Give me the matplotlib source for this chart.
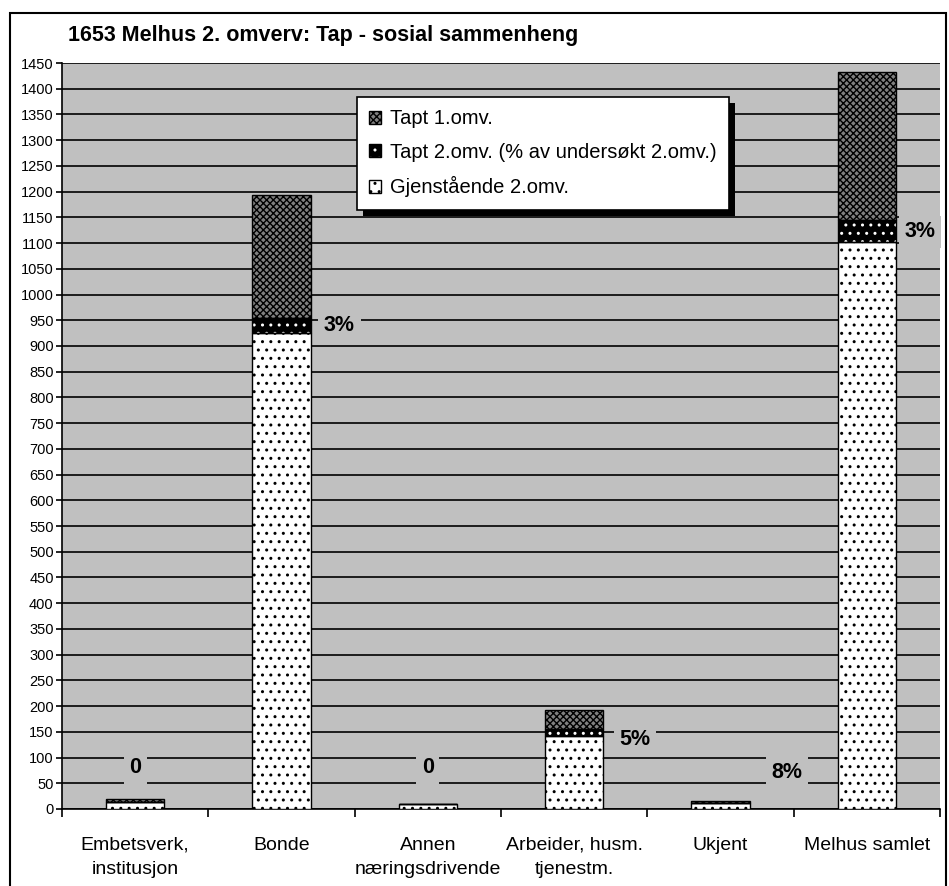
import numpy as np
import matplotlib
matplotlib.use("Agg")
import matplotlib.pyplot as plt
from matplotlib.patches import Patch, Rectangle

plt.rcParams.update({
    "font.family": ["Liberation Sans", "DejaVu Sans"],
    "hatch.linewidth": 1.0,
})

TITLE = "1653 Melhus 2. omverv: Tap - sosial sammenheng"
categories = ["Embetsverk,\ninstitusjon", "Bonde", "Annen\nnæringsdrivende",
              "Arbeider, husm.\ntjenestm.", "Ukjent", "Melhus samlet"]
gjenstaende = [14, 925, 9, 142, 11, 1102]
tapt2 = [0, 29, 0, 13, 1, 42]
tapt1 = [6, 239, 0, 37, 4, 288]
pct_labels = ["0", "3%", "0", "5%", "8%", "3%"]
legend_labels = ["Tapt 1.omv.", "Tapt 2.omv. (% av undersøkt 2.omv.)",
                 "Gjenstående 2.omv."]
# annotation placement (Excel put the labels here)
label_x = [0.0, 1.29, 2.0, 3.31, 4.35, 5.26]
label_y = [80, 940, 80, 135, 70, 1122]

GRAY = "#C0C0C0"
W, H = 949, 886
fig = plt.figure(figsize=(W / 100, H / 100), dpi=100)
ax = fig.add_axes([62 / W, 1 - 809 / H, (940 - 62) / W, (809 - 63) / H])
ax.set_facecolor(GRAY)

x = np.arange(len(categories))
bw = 0.4
g = np.array(gjenstaende)
t2 = np.array(tapt2)
t1 = np.array(tapt1)
DOTS, CHECK = "..", "xxxxx"
styles = [("white", "black", DOTS), ("black", "white", DOTS), ("#808080", "black", CHECK)]
series = [(g, np.zeros_like(g)), (t2, g), (t1, g + t2)]
for (vals, bot), (face, hcol, hatch) in zip(series, styles):
    ax.bar(x, vals, bw, bottom=bot, color=face, edgecolor=hcol, hatch=hatch,
           lw=0, zorder=3)
    ax.bar(x, vals, bw, bottom=bot, fill=False, edgecolor="black", lw=1, zorder=3.1)

for i, lab in enumerate(pct_labels):
    ha = "center" if lab == "0" else "left"
    ax.text(label_x[i], label_y[i], lab, ha=ha, va="center", fontsize=15.5,
            weight="bold", zorder=4,
            bbox=dict(facecolor=GRAY, edgecolor="none", pad=4))

ax.set_xlim(-0.5, 5.5)
ax.set_ylim(0, 1450)
ax.set_yticks(np.arange(0, 1451, 50))
ax.yaxis.grid(True, color="black", lw=1.2)
ax.set_axisbelow(True)
ax.set_xticks(x, categories, fontsize=14, linespacing=1.55)
ax.set_xticks(np.arange(-0.5, 5.6, 1), minor=True)
ax.tick_params(axis="x", which="major", length=0, pad=20)
ax.tick_params(axis="x", which="minor", length=6, direction="out", width=1.2)
ax.tick_params(axis="y", length=4, direction="out", labelsize=10.5, pad=2, width=1.2)
for s in ["top", "right"]:
    ax.spines[s].set_visible(False)
ax.spines["left"].set_linewidth(1.2)
ax.spines["bottom"].set_linewidth(1.2)

outline = dict(fill=False, edgecolor="black", lw=1)
handles = [(Patch(facecolor=f, edgecolor=c, hatch=h, lw=0), Patch(**outline))
           for f, c, h in [styles[2], styles[1], styles[0]]]
leg = ax.legend(handles, legend_labels, loc="upper left",
                bbox_to_anchor=(0.336, 0.954), borderaxespad=0, fontsize=14.5,
                fancybox=False, framealpha=1, edgecolor="black",
                handlelength=0.6, handleheight=0.6, handletextpad=0.45,
                labelspacing=0.72, borderpad=0.6)
leg.get_frame().set_linewidth(1.2)
leg.set_zorder(10)

# hard black drop shadow like the Excel legend
fig.canvas.draw()
bb = leg.get_window_extent().transformed(ax.transAxes.inverted())
dx = 6 / (940 - 62)
dy = 6 / (809 - 63)
ax.add_patch(Rectangle((bb.x0 + dx, bb.y0 - dy), bb.width, bb.height,
                       transform=ax.transAxes, facecolor="black", edgecolor="none",
                       zorder=9, clip_on=False))

fig.text(68 / W, 1 - 35 / H, TITLE, fontsize=15.5, weight="bold", va="center")
fig.patches.append(Rectangle((10 / W, -0.01), (946 - 10) / W, 1.01 - 13 / H,
                             transform=fig.transFigure, fill=False,
                             edgecolor="black", lw=1.5))

fig.savefig("out.png", dpi=100)
